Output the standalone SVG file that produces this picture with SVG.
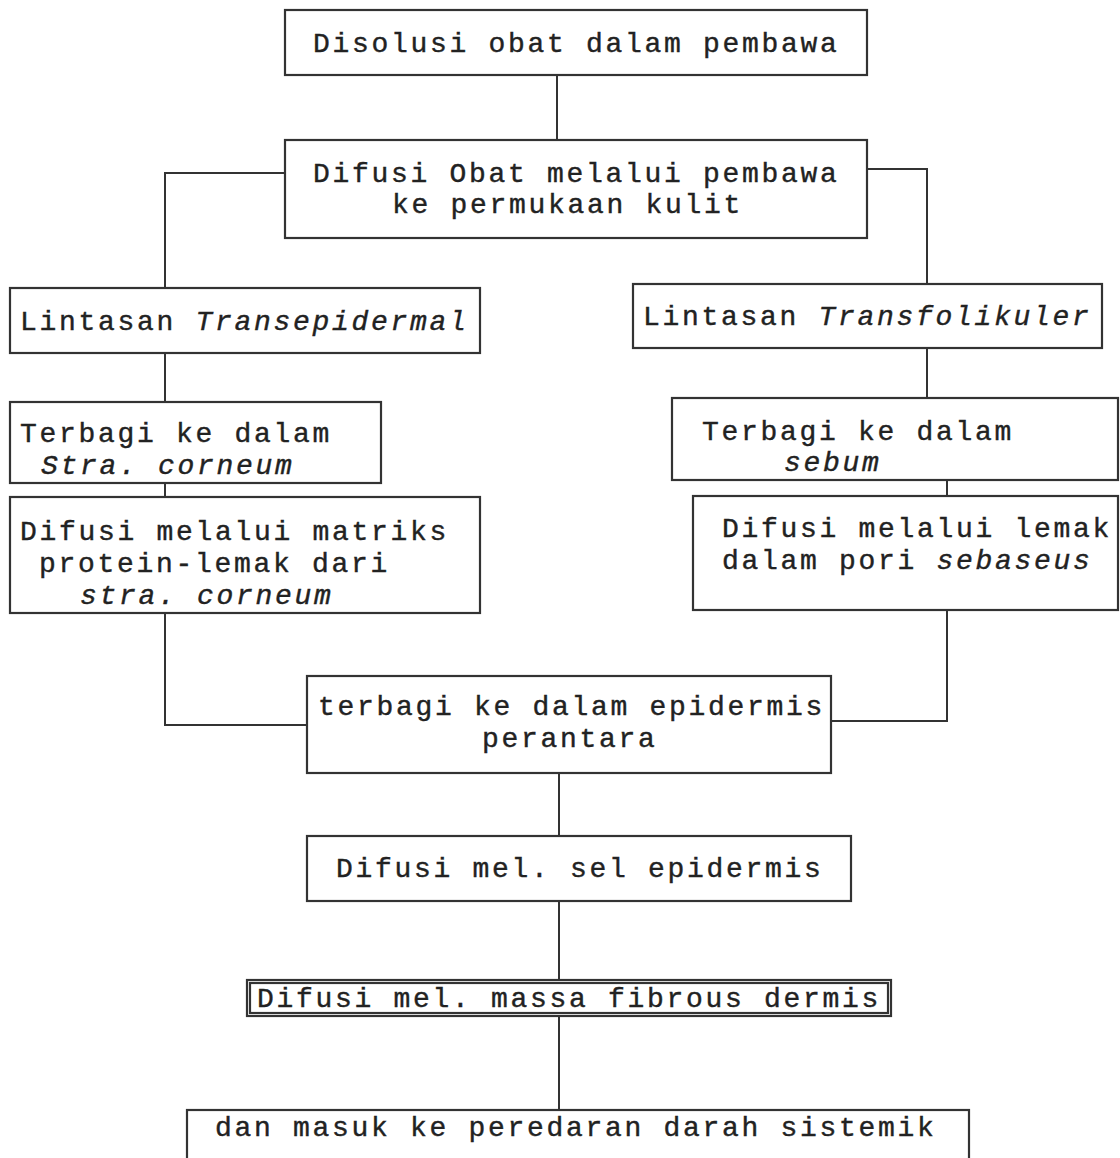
<svg xmlns="http://www.w3.org/2000/svg" width="1120" height="1158" viewBox="0 0 1120 1158">
<style>
.box{fill:#ffffff;stroke:#333;stroke-width:2.2}
.con{fill:none;stroke:#333;stroke-width:2}
text{font-family:"Liberation Mono","DejaVu Sans Mono",monospace;font-size:28px;letter-spacing:2.7px;fill:#222;stroke:#222;stroke-width:0.4}
.i{font-style:italic}
</style>
<rect width="1120" height="1158" fill="#ffffff"/>
<g id="connectors">
<path class="con" d="M557,75 V140"/>
<path class="con" d="M285,173 H165 V288"/>
<path class="con" d="M867,169 H927 V284"/>
<path class="con" d="M165,353 V402"/>
<path class="con" d="M165,483 V497"/>
<path class="con" d="M165,613 V725 H307"/>
<path class="con" d="M927,348 V398"/>
<path class="con" d="M947,480 V496"/>
<path class="con" d="M947,610 V721 H831"/>
<path class="con" d="M559,773 V836"/>
<path class="con" d="M559,901 V980"/>
<path class="con" d="M559,1016 V1110"/>
</g>
<g id="n1"><rect class="box" x="285" y="10" width="582" height="65"/><text x="313" y="52">Disolusi obat dalam pembawa</text></g>
<g id="n2"><rect class="box" x="285" y="140" width="582" height="98"/><text x="313" y="182">Difusi Obat melalui pembawa</text><text x="392" y="213">ke permukaan kulit</text></g>
<g id="n3"><rect class="box" x="10" y="288" width="470" height="65"/><text x="20" y="330">Lintasan <tspan class="i">Transepidermal</tspan></text></g>
<g id="n4"><rect class="box" x="633" y="284" width="469" height="64"/><text x="643" y="325">Lintasan <tspan class="i">Transfolikuler</tspan></text></g>
<g id="n5"><rect class="box" x="10" y="402" width="371" height="81"/><text x="20" y="442">Terbagi ke dalam</text><text x="41" y="474" class="i">Stra. corneum</text></g>
<g id="n6"><rect class="box" x="10" y="497" width="470" height="116"/><text x="20" y="540">Difusi melalui matriks</text><text x="39" y="572">protein-lemak dari</text><text x="80" y="604" class="i">stra. corneum</text></g>
<g id="n7"><rect class="box" x="672" y="398" width="446" height="82"/><text x="702" y="440">Terbagi ke dalam</text><text x="784" y="471" class="i">sebum</text></g>
<g id="n8"><rect class="box" x="693" y="496" width="425" height="114"/><text x="722" y="537">Difusi melalui lemak</text><text x="722" y="569">dalam pori <tspan class="i">sebaseus</tspan></text></g>
<g id="n9"><rect class="box" x="307" y="676" width="524" height="97"/><text x="318" y="715">terbagi ke dalam epidermis</text><text x="482" y="747">perantara</text></g>
<g id="n10"><rect class="box" x="307" y="836" width="544" height="65"/><text x="336" y="877">Difusi mel. sel epidermis</text></g>
<g id="n11"><rect class="box" x="247" y="980" width="644" height="36"/><rect class="box" x="250" y="983" width="638" height="30" stroke-width="1.2"/><text x="257" y="1007">Difusi mel. massa fibrous dermis</text></g>
<g id="n12"><rect class="box" x="187" y="1110" width="782" height="60"/><text x="215" y="1136">dan masuk ke peredaran darah sistemik</text></g>
</svg>
